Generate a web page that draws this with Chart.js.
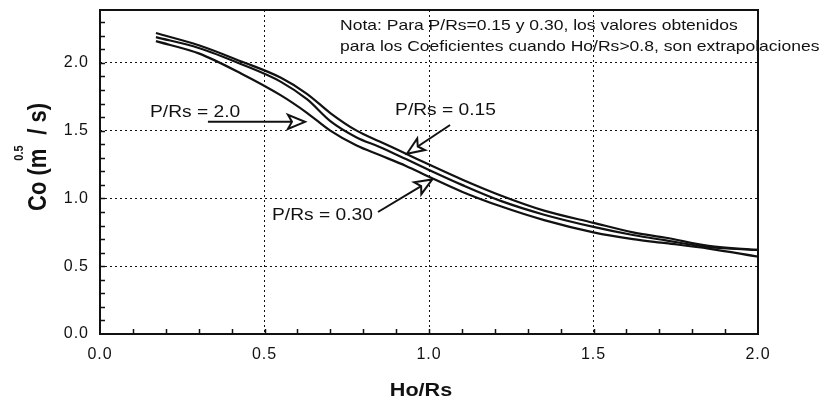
<!DOCTYPE html>
<html>
<head>
<meta charset="utf-8">
<title>Co vs Ho/Rs</title>
<script src="https://cdn.jsdelivr.net/npm/chart.js@4.4.1/dist/chart.umd.min.js"></script>
<style>
  html, body { margin: 0; padding: 0; background: #fff; }
  canvas { display: block; }
</style>
</head>
<body>
<canvas id="coefChart" width="825" height="398"></canvas>
<script>
// Ho/Rs sample points shared by the three curves
const hoRs = [0.17, 0.30, 0.43, 0.55, 0.63, 0.70, 0.78, 0.85, 0.93, 1.00, 1.10, 1.22, 1.35, 1.50, 1.62, 1.72, 1.85, 2.00];

// Co (m^0.5/s) for each P/Rs
const coP015 = [2.22, 2.13, 2.01, 1.89, 1.77, 1.63, 1.50, 1.42, 1.33, 1.25, 1.14, 1.02, 0.91, 0.82, 0.75, 0.71, 0.65, 0.62];
const coP030 = [2.19, 2.11, 1.99, 1.86, 1.73, 1.57, 1.45, 1.38, 1.29, 1.21, 1.10, 0.98, 0.88, 0.79, 0.73, 0.69, 0.64, 0.62];
const coP200 = [2.16, 2.07, 1.92, 1.76, 1.63, 1.50, 1.39, 1.32, 1.24, 1.16, 1.05, 0.94, 0.84, 0.75, 0.70, 0.67, 0.63, 0.57];

const seriesLabels = ['P/Rs = 0.15', 'P/Rs = 0.30', 'P/Rs = 2.0'];
const majorStep = 0.5;
const minorStep = 0.1;

const noteLines = [
  'Nota: Para P/Rs=0.15 y 0.30, los valores obtenidos',
  'para los Coeficientes cuando Ho/Rs>0.8, son extrapolaciones'
];

// callout labels with their arrows, in axis units
const callouts = [
  { text: 'P/Rs = 2.0',  at: [0.152, 1.600], from: [0.328, 1.565], to: [0.623, 1.565] },
  { text: 'P/Rs = 0.15', at: [0.897, 1.616], from: [1.064, 1.542], to: [0.933, 1.330] },
  { text: 'P/Rs = 0.30', at: [0.523, 0.841], from: [0.845, 0.900], to: [1.010, 1.140] }
];

const FONT = '"Liberation Sans", Arial, Helvetica, sans-serif';
const INK = '#111';
const STRETCH = 1.2; // the lettering of the original plot is wide

const toPoints = (ys) => hoRs.map((x, i) => ({ x: x, y: ys[i] }));

function drawWideText(ctx, str, x, y) {
  ctx.save();
  ctx.translate(x, y);
  ctx.scale(STRETCH, 1);
  ctx.fillText(str, 0, 0);
  ctx.restore();
}

function drawArrow(ctx, x0, y0, x1, y1) {
  const ang = Math.atan2(y1 - y0, x1 - x0);
  const len = 17, half = 7;
  const c = Math.cos(ang), s = Math.sin(ang);
  const bx = x1 - len * c, by = y1 - len * s;
  ctx.beginPath();
  ctx.moveTo(x0, y0);
  ctx.lineTo(bx + 4 * c, by + 4 * s);
  ctx.stroke();
  ctx.beginPath();
  ctx.moveTo(x1, y1);
  ctx.lineTo(bx - s * half, by + c * half);
  ctx.lineTo(bx + 4 * c, by + 4 * s);
  ctx.lineTo(bx + s * half, by - c * half);
  ctx.closePath();
  ctx.fillStyle = '#fff';
  ctx.fill();
  ctx.stroke();
}

// a little extra spacing for the tick labels only
const tickSpacing = {
  id: 'tickSpacing',
  beforeDraw(chart) { chart.ctx.letterSpacing = '1px'; },
  beforeDatasetsDraw(chart) { chart.ctx.letterSpacing = '0px'; }
};

// plot frame plus inward minor ticks on the left and bottom axes
const frameTicks = {
  id: 'frameTicks',
  afterDatasetsDraw(chart) {
    const { ctx, chartArea: a, scales } = chart;
    ctx.save();
    ctx.strokeStyle = INK;
    ctx.lineWidth = 1.5;
    ctx.beginPath();
    for (let v = minorStep; v < scales.x.max - 1e-6; v += minorStep) {
      const px = Math.round(scales.x.getPixelForValue(v)) + 0.5;
      ctx.moveTo(px, a.bottom);
      ctx.lineTo(px, a.bottom - 5);
    }
    for (let v = minorStep; v < scales.y.max - 1e-6; v += minorStep) {
      const py = Math.round(scales.y.getPixelForValue(v)) + 0.5;
      ctx.moveTo(a.left, py);
      ctx.lineTo(a.left + 5, py);
    }
    ctx.stroke();
    ctx.lineWidth = 2;
    ctx.strokeRect(a.left, a.top, a.right - a.left, a.bottom - a.top);
    ctx.restore();
  }
};

const calloutLayer = {
  id: 'calloutLayer',
  afterDraw(chart) {
    const { ctx, scales } = chart;
    const X = (v) => scales.x.getPixelForValue(v);
    const Y = (v) => scales.y.getPixelForValue(v);
    ctx.save();
    ctx.fillStyle = INK;
    ctx.strokeStyle = INK;
    ctx.lineWidth = 2;
    ctx.textAlign = 'left';
    ctx.textBaseline = 'alphabetic';

    // note in the upper right corner
    ctx.font = '14.6px ' + FONT;
    drawWideText(ctx, noteLines[0], 340, 30);
    drawWideText(ctx, noteLines[1], 340, 51);

    ctx.font = '16px ' + FONT;
    callouts.forEach(c => {
      ctx.fillStyle = INK;
      drawWideText(ctx, c.text, X(c.at[0]), Y(c.at[1]));
      drawArrow(ctx, X(c.from[0]), Y(c.from[1]), X(c.to[0]), Y(c.to[1]));
    });

    // x axis title
    ctx.fillStyle = INK;
    ctx.textAlign = 'center';
    ctx.font = 'bold 18px ' + FONT;
    drawWideText(ctx, 'Ho/Rs', 421, 396);

    // y axis title with the 0.5 exponent over the m
    ctx.translate(46, 211);
    ctx.rotate(-Math.PI / 2);
    ctx.scale(1, 1.15);
    ctx.textAlign = 'left';
    ctx.font = 'bold 22px ' + FONT;
    ctx.fillText('Co (m', 0, 0);
    const w = ctx.measureText('Co (m').width;
    ctx.fillText('/ s)', w + 14, 0);
    ctx.font = 'bold 11px ' + FONT;
    ctx.fillText('0.5', w - 12, -23 / 1.15);
    ctx.restore();
  }
};

const keepMajor = (scale) => {
  scale.ticks = scale.ticks.filter(t => Math.abs(t.value / majorStep - Math.round(t.value / majorStep)) < 1e-6);
};

new Chart(document.getElementById('coefChart'), {
  type: 'line',
  data: {
    datasets: [coP015, coP030, coP200].map((ys, i) => ({
      label: seriesLabels[i],
      data: toPoints(ys),
      borderColor: INK,
      borderWidth: 2.2,
      pointRadius: 0,
      fill: false,
      cubicInterpolationMode: 'monotone'
    }))
  },
  options: {
    responsive: false,
    animation: false,
    devicePixelRatio: 1,
    layout: { padding: { left: 0, right: 67, top: 10, bottom: 0 } },
    plugins: { legend: { display: false }, tooltip: { enabled: false } },
    scales: {
      x: {
        type: 'linear',
        min: 0,
        max: 2,
        afterFit: (s) => { s.height = 64; s.paddingLeft = 0; s.paddingRight = 0; },
        afterBuildTicks: keepMajor,
        ticks: {
          stepSize: majorStep,
          padding: 11,
          color: INK,
          font: { family: FONT, size: 16 },
          callback: (v) => Number(v).toFixed(1)
        },
        grid: { color: INK, lineWidth: 1, drawTicks: false },
        border: { display: false, dash: [2, 3] }
      },
      y: {
        type: 'linear',
        min: 0,
        max: 2.39,
        afterFit: (s) => { s.width = 100; s.paddingTop = 0; s.paddingBottom = 0; },
        afterBuildTicks: keepMajor,
        ticks: {
          stepSize: majorStep,
          padding: 11,
          color: INK,
          font: { family: FONT, size: 16 },
          callback: (v) => Number(v).toFixed(1)
        },
        grid: { color: INK, lineWidth: 1, drawTicks: false },
        border: { display: false, dash: [2, 3] }
      }
    }
  },
  plugins: [tickSpacing, frameTicks, calloutLayer]
});
</script>
</body>
</html>
